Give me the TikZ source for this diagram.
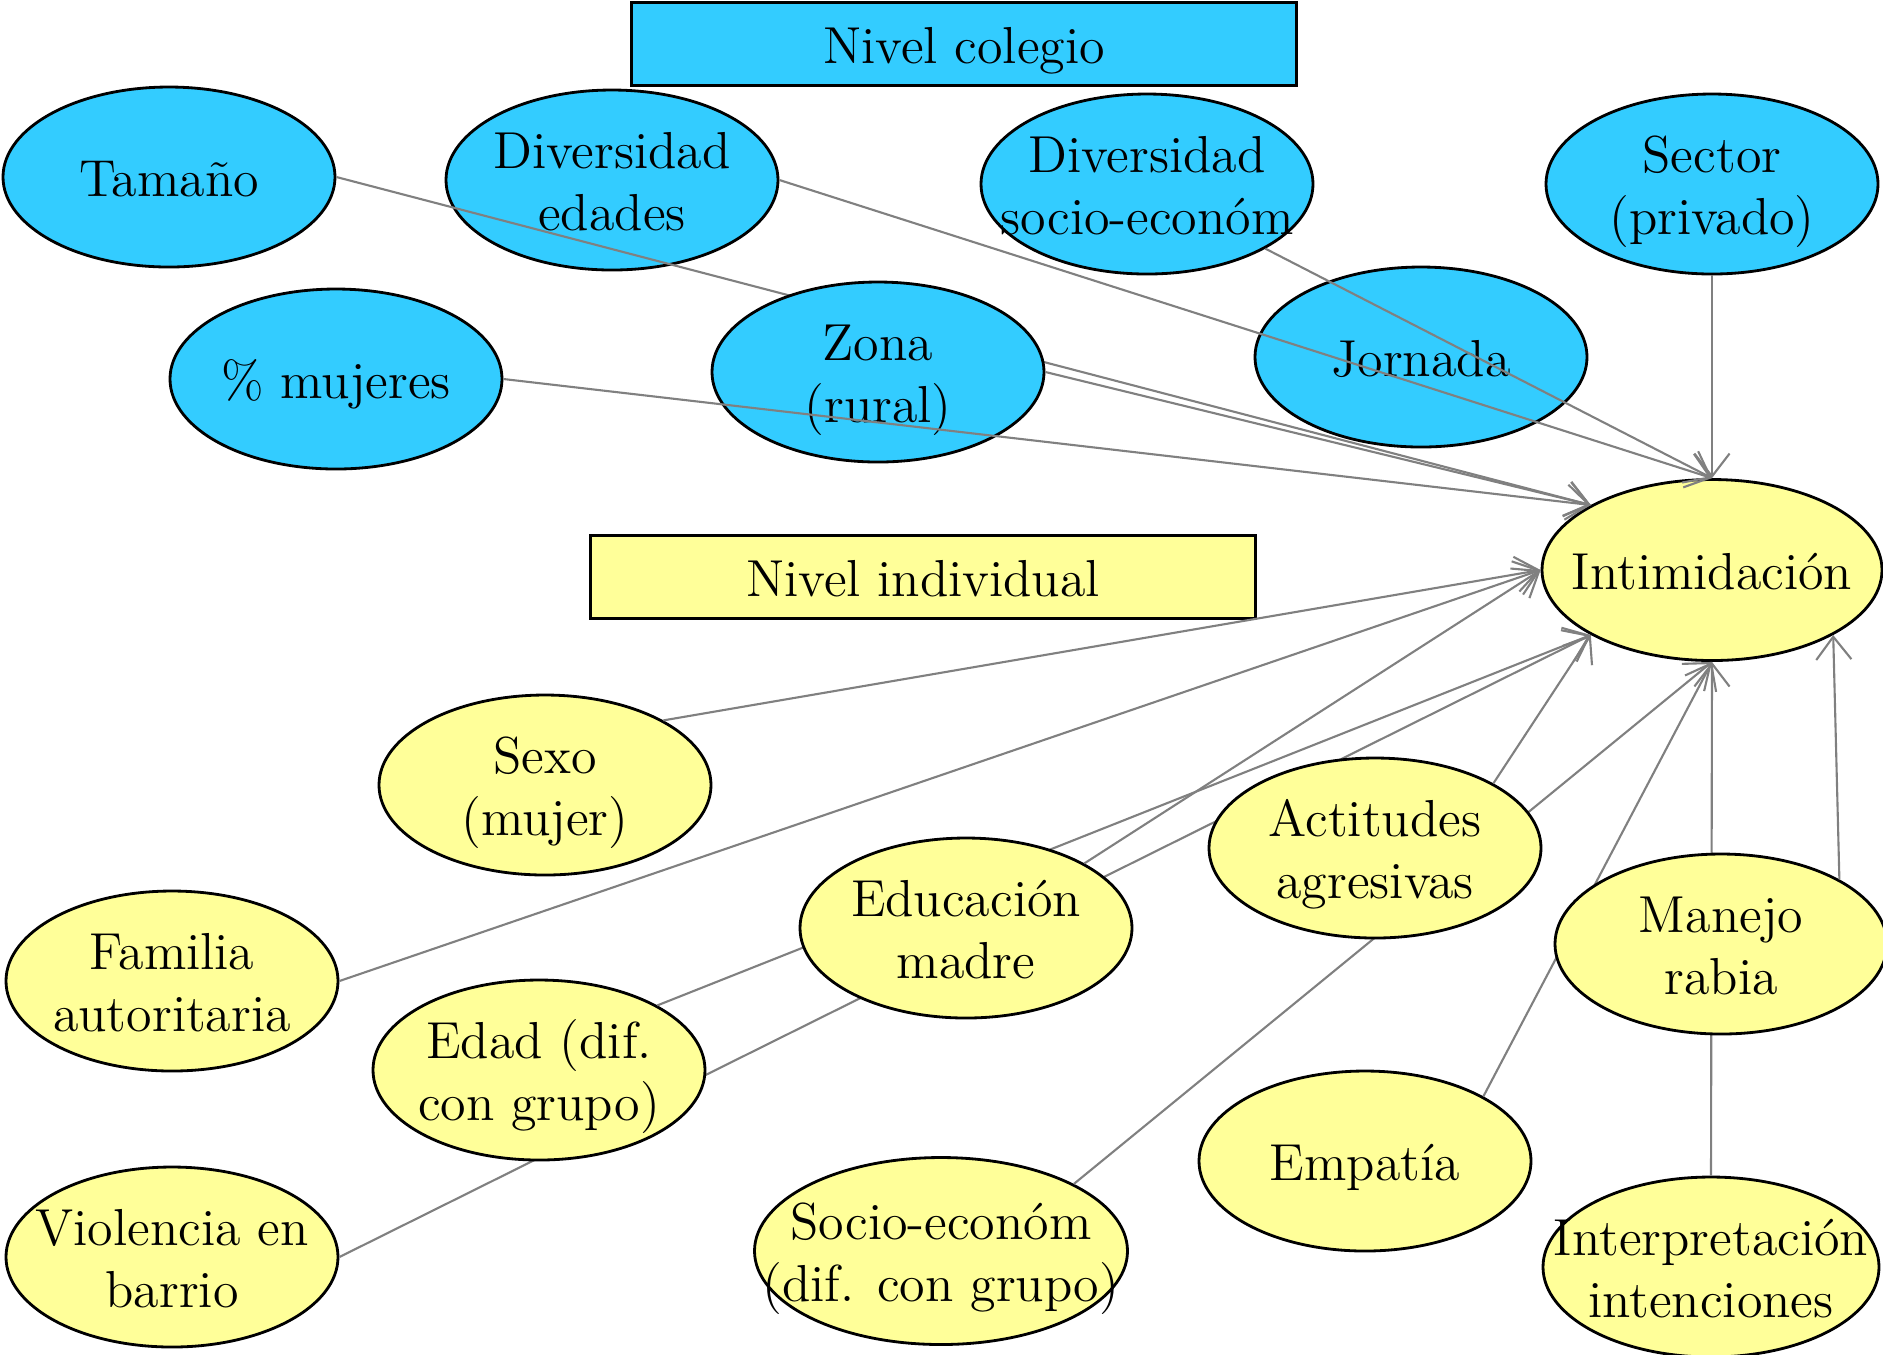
\documentclass[tikz,border=0pt]{standalone}
\usepackage{fontspec}
\usetikzlibrary{shapes.geometric,arrows.meta}
\definecolor{cielo}{RGB}{51,204,255}
\definecolor{crema}{RGB}{255,255,153}
\newcommand{\lbl}[1]{\raisebox{-0.7mm}[\height][\depth]{\makebox[0pt]{\begin{tabular}{@{}c@{}}#1\end{tabular}}}}

\begin{document}
\begin{tikzpicture}[x=0.1mm,y=-0.1mm,
    oval/.style={ellipse,draw=black,line width=0.8pt,inner sep=0pt,minimum width=33.2mm,minimum height=18mm,font=\fontsize{14.8}{17.7}\selectfont},
    colegio/.style={oval,fill=cielo},
    individuo/.style={oval,fill=crema},
    nivel/.style={rectangle,draw=black,line width=0.8pt,inner sep=0pt,minimum width=66.5mm,minimum height=8.3mm,font=\fontsize{14.8}{17.7}\selectfont},
    flecha/.style={draw=gray,line width=0.6pt,-{Straight Barb[length=6.5pt,width=10pt]}}]
        \useasboundingbox (0,0) rectangle (1883,1354);
        \node[nivel,fill=cielo] (nivcolegio) at (964,44) {\lbl{Nivel colegio}};
        \node[nivel,fill=crema] (nivindividual) at (923,577) {\lbl{Nivel individual}};
        \node[colegio] (tamano) at (169,177) {\lbl{Tamaño}};
        \node[colegio] (divedad) at (612,180) {\lbl{Diversidad\\edades}};
        \node[colegio] (divsocio) at (1147,184) {\lbl{Diversidad\\socio-económ}};
        \node[colegio] (sector) at (1712,184) {\lbl{Sector\\(privado)}};
        \node[colegio] (mujeres) at (336,379) {\lbl{\% mujeres}};
        \node[colegio] (jornada) at (1421,357) {\lbl{Jornada}};
        \node[individuo,minimum width=34mm,minimum height=18.1mm] (intim) at (1712,570) {\lbl{Intimidación}};
        \draw[flecha] (tamano.east) -- (intim.north west);
        \node[colegio] (zona) at (878,372) {\lbl{Zona\\(rural)}};
        \draw[flecha] (mujeres.east) -- (intim.north west);
        \draw[flecha] (zona.east) -- (intim.north west);
        \draw[flecha] (divedad.east) -- (intim.north);
        \draw[flecha] (divsocio.south east) -- (intim.north);
        \draw[flecha] (sector.south) -- (intim.north);
        \node[individuo] (sexo) at (545,785) {\lbl{Sexo\\(mujer)}};
        \node[individuo] (familia) at (172,981) {\lbl{Familia\\autoritaria}};
        \node[individuo] (violencia) at (172,1257) {\lbl{Violencia en\\barrio}};
        \node[individuo,minimum width=37.3mm,minimum height=18.7mm] (socio) at (941,1251) {\lbl{Socio-económ\\(dif. con grupo)}};
        \node[individuo] (empatia) at (1365,1161) {\lbl{Empatía}};
        \node[individuo,minimum width=33.6mm] (interp) at (1711,1267) {\lbl{Interpretación\\intenciones}};
        \draw[flecha] (violencia.east) -- (intim.south west);
        \draw[flecha] (socio.north east) -- (intim.south);
        \draw[flecha] (empatia.north east) -- (intim.south);
        \draw[flecha] (interp.north) -- (intim.south);
        \node[individuo] (edad) at (539,1070) {\lbl{Edad (dif.\\con grupo)}};
        \draw[flecha] (edad.north east) -- (intim.south west);
        \node[individuo] (educ) at (966,928) {\lbl{Educación\\madre}};
        \node[individuo] (actitud) at (1375,848) {\lbl{Actitudes\\agresivas}};
        \node[individuo] (manejo) at (1721,944) {\lbl{Manejo\\rabia}};
        \draw[flecha] (sexo.north east) -- (intim.west);
        \draw[flecha] (familia.east) -- (intim.west);
        \draw[flecha] (educ.north east) -- (intim.west);
        \draw[flecha] (actitud.north east) -- (intim.south west);
        \draw[flecha] (manejo.north east) -- (intim.south east);
    \end{tikzpicture}
\end{document}
